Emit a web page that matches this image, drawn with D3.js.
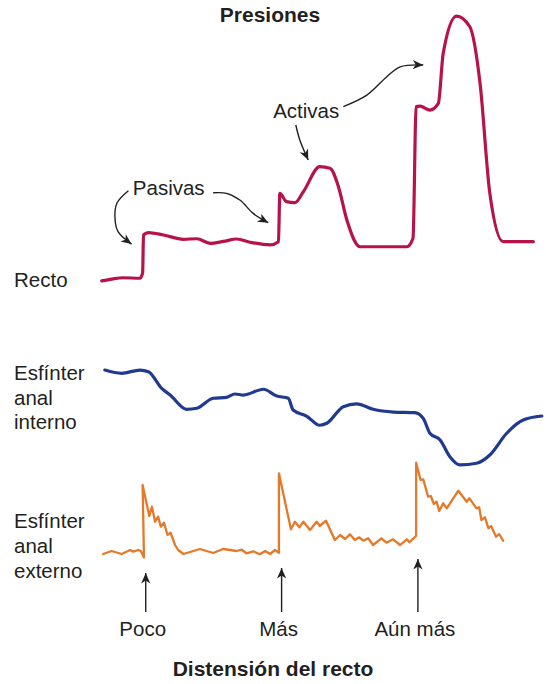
<!DOCTYPE html>
<html><head><meta charset="utf-8">
<script src="https://cdn.jsdelivr.net/npm/d3@7"></script>
<style>
body{margin:0;background:#fff}
svg{display:block}
text{font-family:"Liberation Sans",Arial,Helvetica,sans-serif;fill:#231f20}
</style>
</head><body>
<svg id="c" width="546" height="684"></svg>
<script>
// ---- Data (time in arbitrary units 0–100, values in relative units 0–100) ----
const rectoTime     = [0.4,2.7,5.2,9.0,9.6,9.8,10.9,14.3,18.8,21.8,24.8,27.8,30.8,33.8,38.3,40.2,40.5,42.0,43.9,45.8,49.5,51.8,53.7,55.6,58.6,69.1,70.5,71.2,72.1,74.3,76.2,77.3,80.3,83.3,85.6,87.8,90.8,97.6];
const rectoPressure = [0.4,1.1,1.6,1.4,3.4,17.6,18.5,17.6,16.0,16.2,14.5,15.2,16.1,14.9,13.9,15.1,33.2,30.1,29.7,33.8,43.2,42.6,35.7,23.2,13.2,13.2,16.4,65.7,65.9,64.4,66.9,85.7,99.6,95.6,74.4,33.2,15.1,15.1];

const internoTime  = [1.1,4.9,9.0,10.9,13.9,15.8,19.5,21.8,25.5,28.5,30.4,32.3,36.8,39.8,42.4,43.5,46.5,49.5,51.1,54.8,57.8,61.5,66.1,70.9,72.8,74.3,76.6,78.8,81.1,84.8,87.8,91.6,95.3,99.5];
const internoTone  = [95.2,92.1,95.2,93.6,77.8,71.4,57.8,58.8,68.3,69.2,72.4,71.4,76.9,70.5,68.3,57.1,51.4,42.6,44.5,60.3,62.9,57.8,55.2,54.6,49.2,35.0,28.6,12.7,4.8,6.4,14.3,35.0,47.6,51.4];

const externoTime  = [0.7,2.6,4.9,6.8,7.5,8.6,9.2,9.9,9.6,11.1,11.7,12.4,13.1,13.7,14.4,15.2,15.9,16.9,17.6,18.8,22.5,25.5,27.7,30.8,31.9,33.0,34.5,36.0,37.2,38.3,39.4,40.3,40.3,43.0,43.9,44.9,45.8,47.3,48.8,49.5,50.9,52.9,54.1,55.2,56.3,57.4,58.4,59.3,60.4,61.5,63.4,64.5,66.0,67.6,69.1,69.7,71.2,71.2,72.2,72.8,73.9,74.5,75.2,75.8,76.4,77.3,78.1,80.7,82.6,83.2,84.8,85.4,85.9,86.7,87.5,88.1,89.2,89.9,90.8];
const externoEMG   = [6,9,6,10,8.3,10,9,2.5,75,44,53.3,38.3,43.3,33.3,37.3,25,27.3,15,10,6,11,7,11,9,10.3,6.7,8.7,5.7,9,6,10,7.3,86.7,30.7,38.3,32.7,38.3,30,38.3,34,39.3,20,25,21,25.7,20,22.7,19.3,21.7,15,21.7,17.3,20.7,15,20.7,17.7,24.3,97.3,80,80.7,63.3,64,56,58.3,49,56.7,51.7,69.3,58.3,61.7,51.7,52.7,40,42.7,31.7,34,23.3,26,19.3];

const traceNames = [["Recto"],["Esfínter","anal","interno"],["Esfínter","anal","externo"]];
const distensionLabels = ["Poco","Más","Aún más"];
const distensionTime   = [10.3, 40.9, 71.6];
const title = "Presiones";
const xTitle = "Distensión del recto";

// annotation arrows, in (time, rectal pressure) units
const pasivasLeft  = [[6.4,34.2],[3.8,29.5],[3.4,23.2],[4.1,18.8],[7.1,14.2]];
const pasivasRight = [[25.5,33.4],[28.5,33.2],[31.5,30.7],[34.5,25.7],[37.9,22.2]];
const activasDown  = [[44.1,58.8],[45.0,53.2],[46.9,45.7]];
const activasUp    = [[54.8,65.7],[60.1,70.0],[64.6,76.9],[67.6,80.6],[72.8,81.3]];

// ---- Drawing ----
const svg = d3.select("#c");
const ink = "#231f20";
const x = d3.scaleLinear().domain([0,100]).range([100,544]);
const yRecto   = d3.scaleLinear().domain([0,100]).range([282,15]);
const yInterno = d3.scaleLinear().domain([0,100]).range([470,365]);
const yExterno = d3.scaleLinear().domain([0,100]).range([560,460]);

const defs = svg.append("defs");
defs.append("marker").attr("id","ah").attr("viewBox","-11 -6 12 12")
  .attr("refX",0).attr("refY",0).attr("markerWidth",12).attr("markerHeight",12)
  .attr("markerUnits","userSpaceOnUse").attr("orient","auto")
  .append("path").attr("d","M0,0 L-10.5,-4.6 L-7.5,0 L-10.5,4.6 Z").attr("fill",ink);

function trace(ts, vs, y, color, w, curve){
  const pts = ts.map((t,i)=>[t, vs[i]]);
  svg.append("path").datum(pts)
    .attr("d", d3.line().x(d=>x(d[0])).y(d=>y(d[1])).curve(curve))
    .attr("fill","none").attr("stroke",color).attr("stroke-width",w)
    .attr("stroke-linejoin","round").attr("stroke-linecap","round");
}
trace(rectoTime, rectoPressure, yRecto, "#b7124a", 3.2, d3.curveMonotoneX);
trace(internoTime, internoTone, yInterno, "#1f3a8e", 3.2, d3.curveMonotoneX);
trace(externoTime, externoEMG, yExterno, "#e5792a", 2.3, d3.curveLinear);

// annotation arrows
[pasivasLeft, pasivasRight, activasDown, activasUp].forEach(a=>{
  svg.append("path").datum(a)
    .attr("d", d3.line().x(d=>x(d[0])).y(d=>yRecto(d[1])).curve(d3.curveCatmullRom.alpha(0.5)))
    .attr("fill","none").attr("stroke",ink).attr("stroke-width",1.4)
    .attr("marker-end","url(#ah)");
});
svg.append("text").attr("x", x(7.4)).attr("y", yRecto(32.6)).attr("font-size",20.5).text("Pasivas");
svg.append("text").attr("x", x(39.0)).attr("y", yRecto(61.4)).attr("font-size",20.5).text("Activas");

// title
svg.append("text").attr("x",270).attr("y",22).attr("text-anchor","middle")
  .attr("font-size",21).attr("font-weight","bold").text(title);

// trace names
const nameBase = [yRecto(-1.9), yInterno(85.7), yExterno(31.8)];
traceNames.forEach((lines,i)=>{
  const t = svg.append("text").attr("x",14).attr("y",nameBase[i]).attr("font-size",20.5);
  lines.forEach((s,j)=> t.append("tspan").attr("x",14).attr("dy", j===0?0:24.7).text(s));
});

// distension arrows & labels
const arrowLen = [39, 44, 53];
distensionTime.forEach((t,i)=>{
  svg.append("line").attr("x1",x(t)).attr("x2",x(t)).attr("y1",612).attr("y2",612-arrowLen[i])
    .attr("stroke",ink).attr("stroke-width",1.4).attr("marker-end","url(#ah)");
  svg.append("text").attr("x",x(t)-3).attr("y",636).attr("text-anchor","middle")
    .attr("font-size",20.5).text(distensionLabels[i]);
});

svg.append("text").attr("x",273).attr("y",676).attr("text-anchor","middle")
  .attr("font-size",21).attr("font-weight","bold").text(xTitle);
</script>
</body></html>
